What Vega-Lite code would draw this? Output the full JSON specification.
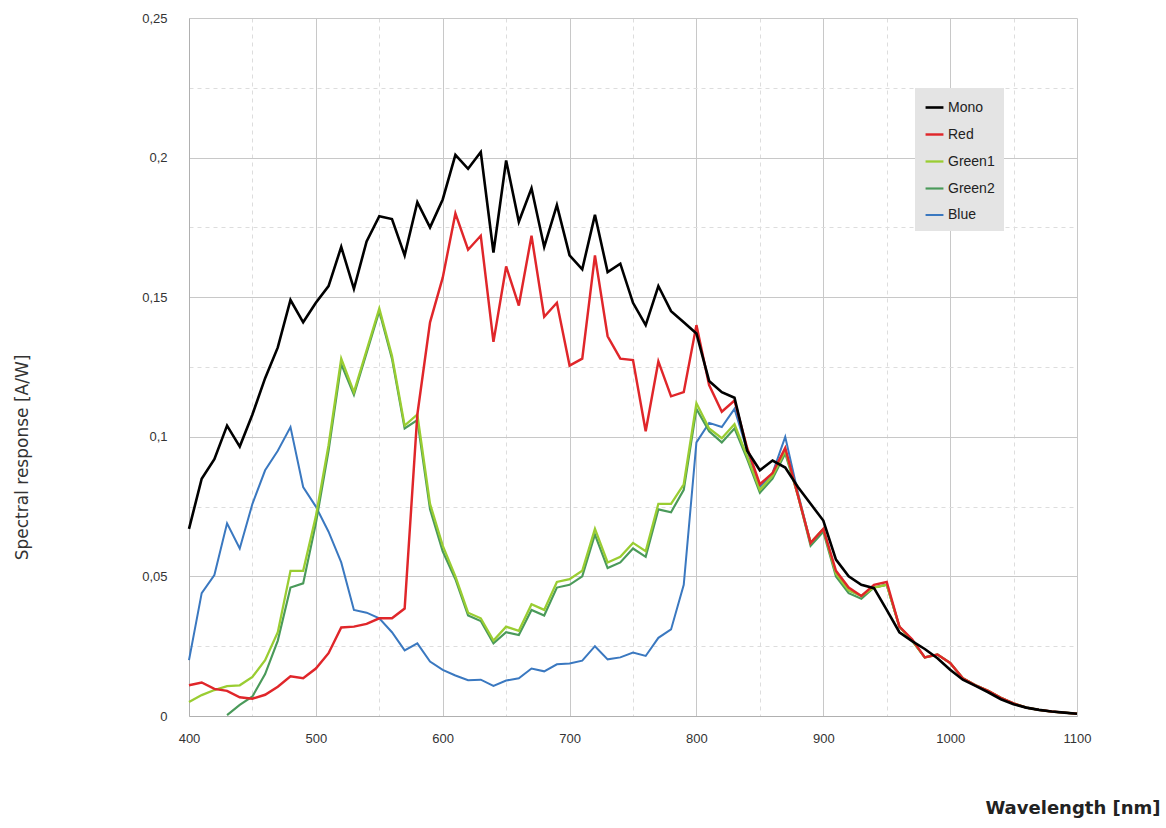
{
  "$schema": "https://vega.github.io/schema/vega-lite/v6.json",
  "autosize": {"type": "none"},
  "padding": {"left": 189, "top": 18, "right": 89, "bottom": 112},
  "width": 888,
  "height": 698,
  "background": "white",
  "config": {
    "view": {"stroke": null},
    "font": "DejaVu Sans"
  },
  "data": {
    "values": [
      {"series":"Blue","wl":400,"r":0.020},{"series":"Blue","wl":410,"r":0.044},{"series":"Blue","wl":420,"r":0.0505},{"series":"Blue","wl":430,"r":0.069},{"series":"Blue","wl":440,"r":0.060},{"series":"Blue","wl":450,"r":0.076},{"series":"Blue","wl":460,"r":0.088},{"series":"Blue","wl":470,"r":0.095},{"series":"Blue","wl":480,"r":0.1035},{"series":"Blue","wl":490,"r":0.082},{"series":"Blue","wl":500,"r":0.075},{"series":"Blue","wl":510,"r":0.066},{"series":"Blue","wl":520,"r":0.055},{"series":"Blue","wl":530,"r":0.038},{"series":"Blue","wl":540,"r":0.037},{"series":"Blue","wl":550,"r":0.035},{"series":"Blue","wl":560,"r":0.030},{"series":"Blue","wl":570,"r":0.0235},{"series":"Blue","wl":580,"r":0.026},{"series":"Blue","wl":590,"r":0.0195},{"series":"Blue","wl":600,"r":0.0165},{"series":"Blue","wl":610,"r":0.0145},{"series":"Blue","wl":620,"r":0.0128},{"series":"Blue","wl":630,"r":0.013},{"series":"Blue","wl":640,"r":0.0108},{"series":"Blue","wl":650,"r":0.0127},{"series":"Blue","wl":660,"r":0.0135},{"series":"Blue","wl":670,"r":0.017},{"series":"Blue","wl":680,"r":0.016},{"series":"Blue","wl":690,"r":0.0185},{"series":"Blue","wl":700,"r":0.0188},{"series":"Blue","wl":710,"r":0.0198},{"series":"Blue","wl":720,"r":0.025},{"series":"Blue","wl":730,"r":0.0203},{"series":"Blue","wl":740,"r":0.021},{"series":"Blue","wl":750,"r":0.0227},{"series":"Blue","wl":760,"r":0.0215},{"series":"Blue","wl":770,"r":0.028},{"series":"Blue","wl":780,"r":0.031},{"series":"Blue","wl":790,"r":0.047},{"series":"Blue","wl":800,"r":0.098},{"series":"Blue","wl":810,"r":0.105},{"series":"Blue","wl":820,"r":0.1035},{"series":"Blue","wl":830,"r":0.110},{"series":"Blue","wl":840,"r":0.095},{"series":"Blue","wl":850,"r":0.082},{"series":"Blue","wl":860,"r":0.087},{"series":"Blue","wl":870,"r":0.100},{"series":"Blue","wl":880,"r":0.080},{"series":"Blue","wl":890,"r":0.062},{"series":"Blue","wl":900,"r":0.067},{"series":"Blue","wl":910,"r":0.051},{"series":"Blue","wl":920,"r":0.045},{"series":"Blue","wl":930,"r":0.043},{"series":"Blue","wl":940,"r":0.046},{"series":"Blue","wl":950,"r":0.047},{"series":"Blue","wl":960,"r":0.032},{"series":"Blue","wl":970,"r":0.027},{"series":"Blue","wl":980,"r":0.021},{"series":"Blue","wl":990,"r":0.022},{"series":"Blue","wl":1000,"r":0.019},{"series":"Blue","wl":1010,"r":0.0135},{"series":"Blue","wl":1020,"r":0.011},{"series":"Blue","wl":1030,"r":0.009},{"series":"Blue","wl":1040,"r":0.0065},{"series":"Blue","wl":1050,"r":0.0045},{"series":"Blue","wl":1060,"r":0.003},{"series":"Blue","wl":1070,"r":0.0022},{"series":"Blue","wl":1080,"r":0.0016},{"series":"Blue","wl":1090,"r":0.0012},{"series":"Blue","wl":1100,"r":0.0008},
      {"series":"Green2","wl":430,"r":0.0003},{"series":"Green2","wl":440,"r":0.004},{"series":"Green2","wl":450,"r":0.007},{"series":"Green2","wl":460,"r":0.015},{"series":"Green2","wl":470,"r":0.027},{"series":"Green2","wl":480,"r":0.046},{"series":"Green2","wl":490,"r":0.0475},{"series":"Green2","wl":500,"r":0.069},{"series":"Green2","wl":510,"r":0.095},{"series":"Green2","wl":520,"r":0.126},{"series":"Green2","wl":530,"r":0.115},{"series":"Green2","wl":540,"r":0.130},{"series":"Green2","wl":550,"r":0.145},{"series":"Green2","wl":560,"r":0.128},{"series":"Green2","wl":570,"r":0.103},{"series":"Green2","wl":580,"r":0.106},{"series":"Green2","wl":590,"r":0.074},{"series":"Green2","wl":600,"r":0.059},{"series":"Green2","wl":610,"r":0.049},{"series":"Green2","wl":620,"r":0.036},{"series":"Green2","wl":630,"r":0.034},{"series":"Green2","wl":640,"r":0.026},{"series":"Green2","wl":650,"r":0.030},{"series":"Green2","wl":660,"r":0.029},{"series":"Green2","wl":670,"r":0.038},{"series":"Green2","wl":680,"r":0.036},{"series":"Green2","wl":690,"r":0.046},{"series":"Green2","wl":700,"r":0.047},{"series":"Green2","wl":710,"r":0.050},{"series":"Green2","wl":720,"r":0.065},{"series":"Green2","wl":730,"r":0.053},{"series":"Green2","wl":740,"r":0.055},{"series":"Green2","wl":750,"r":0.060},{"series":"Green2","wl":760,"r":0.057},{"series":"Green2","wl":770,"r":0.074},{"series":"Green2","wl":780,"r":0.073},{"series":"Green2","wl":790,"r":0.081},{"series":"Green2","wl":800,"r":0.110},{"series":"Green2","wl":810,"r":0.102},{"series":"Green2","wl":820,"r":0.098},{"series":"Green2","wl":830,"r":0.103},{"series":"Green2","wl":840,"r":0.092},{"series":"Green2","wl":850,"r":0.080},{"series":"Green2","wl":860,"r":0.085},{"series":"Green2","wl":870,"r":0.094},{"series":"Green2","wl":880,"r":0.079},{"series":"Green2","wl":890,"r":0.061},{"series":"Green2","wl":900,"r":0.066},{"series":"Green2","wl":910,"r":0.050},{"series":"Green2","wl":920,"r":0.044},{"series":"Green2","wl":930,"r":0.042},{"series":"Green2","wl":940,"r":0.046},{"series":"Green2","wl":950,"r":0.047},{"series":"Green2","wl":960,"r":0.032},{"series":"Green2","wl":970,"r":0.027},{"series":"Green2","wl":980,"r":0.021},{"series":"Green2","wl":990,"r":0.022},{"series":"Green2","wl":1000,"r":0.019},{"series":"Green2","wl":1010,"r":0.0135},{"series":"Green2","wl":1020,"r":0.011},{"series":"Green2","wl":1030,"r":0.009},{"series":"Green2","wl":1040,"r":0.0065},{"series":"Green2","wl":1050,"r":0.0045},{"series":"Green2","wl":1060,"r":0.003},{"series":"Green2","wl":1070,"r":0.0022},{"series":"Green2","wl":1080,"r":0.0016},{"series":"Green2","wl":1090,"r":0.0012},{"series":"Green2","wl":1100,"r":0.0008},
      {"series":"Green1","wl":400,"r":0.005},{"series":"Green1","wl":410,"r":0.0075},{"series":"Green1","wl":420,"r":0.0093},{"series":"Green1","wl":430,"r":0.0107},{"series":"Green1","wl":440,"r":0.011},{"series":"Green1","wl":450,"r":0.014},{"series":"Green1","wl":460,"r":0.020},{"series":"Green1","wl":470,"r":0.030},{"series":"Green1","wl":480,"r":0.052},{"series":"Green1","wl":490,"r":0.052},{"series":"Green1","wl":500,"r":0.0715},{"series":"Green1","wl":510,"r":0.097},{"series":"Green1","wl":520,"r":0.128},{"series":"Green1","wl":530,"r":0.116},{"series":"Green1","wl":540,"r":0.131},{"series":"Green1","wl":550,"r":0.146},{"series":"Green1","wl":560,"r":0.129},{"series":"Green1","wl":570,"r":0.104},{"series":"Green1","wl":580,"r":0.108},{"series":"Green1","wl":590,"r":0.076},{"series":"Green1","wl":600,"r":0.061},{"series":"Green1","wl":610,"r":0.050},{"series":"Green1","wl":620,"r":0.037},{"series":"Green1","wl":630,"r":0.035},{"series":"Green1","wl":640,"r":0.027},{"series":"Green1","wl":650,"r":0.032},{"series":"Green1","wl":660,"r":0.0305},{"series":"Green1","wl":670,"r":0.040},{"series":"Green1","wl":680,"r":0.038},{"series":"Green1","wl":690,"r":0.048},{"series":"Green1","wl":700,"r":0.049},{"series":"Green1","wl":710,"r":0.052},{"series":"Green1","wl":720,"r":0.067},{"series":"Green1","wl":730,"r":0.055},{"series":"Green1","wl":740,"r":0.057},{"series":"Green1","wl":750,"r":0.062},{"series":"Green1","wl":760,"r":0.059},{"series":"Green1","wl":770,"r":0.076},{"series":"Green1","wl":780,"r":0.076},{"series":"Green1","wl":790,"r":0.083},{"series":"Green1","wl":800,"r":0.112},{"series":"Green1","wl":810,"r":0.103},{"series":"Green1","wl":820,"r":0.0995},{"series":"Green1","wl":830,"r":0.1045},{"series":"Green1","wl":840,"r":0.093},{"series":"Green1","wl":850,"r":0.081},{"series":"Green1","wl":860,"r":0.086},{"series":"Green1","wl":870,"r":0.095},{"series":"Green1","wl":880,"r":0.079},{"series":"Green1","wl":890,"r":0.062},{"series":"Green1","wl":900,"r":0.067},{"series":"Green1","wl":910,"r":0.051},{"series":"Green1","wl":920,"r":0.045},{"series":"Green1","wl":930,"r":0.043},{"series":"Green1","wl":940,"r":0.046},{"series":"Green1","wl":950,"r":0.047},{"series":"Green1","wl":960,"r":0.032},{"series":"Green1","wl":970,"r":0.027},{"series":"Green1","wl":980,"r":0.021},{"series":"Green1","wl":990,"r":0.022},{"series":"Green1","wl":1000,"r":0.019},{"series":"Green1","wl":1010,"r":0.0135},{"series":"Green1","wl":1020,"r":0.011},{"series":"Green1","wl":1030,"r":0.009},{"series":"Green1","wl":1040,"r":0.0065},{"series":"Green1","wl":1050,"r":0.0045},{"series":"Green1","wl":1060,"r":0.003},{"series":"Green1","wl":1070,"r":0.0022},{"series":"Green1","wl":1080,"r":0.0016},{"series":"Green1","wl":1090,"r":0.0012},{"series":"Green1","wl":1100,"r":0.0008},
      {"series":"Red","wl":400,"r":0.011},{"series":"Red","wl":410,"r":0.012},{"series":"Red","wl":420,"r":0.0097},{"series":"Red","wl":430,"r":0.009},{"series":"Red","wl":440,"r":0.0067},{"series":"Red","wl":450,"r":0.0062},{"series":"Red","wl":460,"r":0.0076},{"series":"Red","wl":470,"r":0.0105},{"series":"Red","wl":480,"r":0.0142},{"series":"Red","wl":490,"r":0.0135},{"series":"Red","wl":500,"r":0.017},{"series":"Red","wl":510,"r":0.0225},{"series":"Red","wl":520,"r":0.0317},{"series":"Red","wl":530,"r":0.032},{"series":"Red","wl":540,"r":0.033},{"series":"Red","wl":550,"r":0.035},{"series":"Red","wl":560,"r":0.035},{"series":"Red","wl":570,"r":0.0385},{"series":"Red","wl":580,"r":0.108},{"series":"Red","wl":590,"r":0.141},{"series":"Red","wl":600,"r":0.157},{"series":"Red","wl":610,"r":0.180},{"series":"Red","wl":620,"r":0.167},{"series":"Red","wl":630,"r":0.172},{"series":"Red","wl":640,"r":0.134},{"series":"Red","wl":650,"r":0.161},{"series":"Red","wl":660,"r":0.147},{"series":"Red","wl":670,"r":0.172},{"series":"Red","wl":680,"r":0.143},{"series":"Red","wl":690,"r":0.148},{"series":"Red","wl":700,"r":0.1255},{"series":"Red","wl":710,"r":0.128},{"series":"Red","wl":720,"r":0.165},{"series":"Red","wl":730,"r":0.136},{"series":"Red","wl":740,"r":0.128},{"series":"Red","wl":750,"r":0.1275},{"series":"Red","wl":760,"r":0.102},{"series":"Red","wl":770,"r":0.127},{"series":"Red","wl":780,"r":0.1145},{"series":"Red","wl":790,"r":0.116},{"series":"Red","wl":800,"r":0.140},{"series":"Red","wl":810,"r":0.1185},{"series":"Red","wl":820,"r":0.109},{"series":"Red","wl":830,"r":0.113},{"series":"Red","wl":840,"r":0.096},{"series":"Red","wl":850,"r":0.083},{"series":"Red","wl":860,"r":0.087},{"series":"Red","wl":870,"r":0.096},{"series":"Red","wl":880,"r":0.079},{"series":"Red","wl":890,"r":0.062},{"series":"Red","wl":900,"r":0.067},{"series":"Red","wl":910,"r":0.052},{"series":"Red","wl":920,"r":0.046},{"series":"Red","wl":930,"r":0.043},{"series":"Red","wl":940,"r":0.047},{"series":"Red","wl":950,"r":0.048},{"series":"Red","wl":960,"r":0.032},{"series":"Red","wl":970,"r":0.0275},{"series":"Red","wl":980,"r":0.021},{"series":"Red","wl":990,"r":0.022},{"series":"Red","wl":1000,"r":0.019},{"series":"Red","wl":1010,"r":0.0135},{"series":"Red","wl":1020,"r":0.011},{"series":"Red","wl":1030,"r":0.009},{"series":"Red","wl":1040,"r":0.0065},{"series":"Red","wl":1050,"r":0.0045},{"series":"Red","wl":1060,"r":0.003},{"series":"Red","wl":1070,"r":0.0022},{"series":"Red","wl":1080,"r":0.0016},{"series":"Red","wl":1090,"r":0.0012},{"series":"Red","wl":1100,"r":0.0008},
      {"series":"Mono","wl":400,"r":0.067},{"series":"Mono","wl":410,"r":0.085},{"series":"Mono","wl":420,"r":0.092},{"series":"Mono","wl":430,"r":0.104},{"series":"Mono","wl":440,"r":0.0965},{"series":"Mono","wl":450,"r":0.108},{"series":"Mono","wl":460,"r":0.121},{"series":"Mono","wl":470,"r":0.132},{"series":"Mono","wl":480,"r":0.149},{"series":"Mono","wl":490,"r":0.141},{"series":"Mono","wl":500,"r":0.148},{"series":"Mono","wl":510,"r":0.154},{"series":"Mono","wl":520,"r":0.168},{"series":"Mono","wl":530,"r":0.153},{"series":"Mono","wl":540,"r":0.170},{"series":"Mono","wl":550,"r":0.179},{"series":"Mono","wl":560,"r":0.178},{"series":"Mono","wl":570,"r":0.165},{"series":"Mono","wl":580,"r":0.184},{"series":"Mono","wl":590,"r":0.175},{"series":"Mono","wl":600,"r":0.185},{"series":"Mono","wl":610,"r":0.201},{"series":"Mono","wl":620,"r":0.196},{"series":"Mono","wl":630,"r":0.202},{"series":"Mono","wl":640,"r":0.166},{"series":"Mono","wl":650,"r":0.199},{"series":"Mono","wl":660,"r":0.177},{"series":"Mono","wl":670,"r":0.189},{"series":"Mono","wl":680,"r":0.168},{"series":"Mono","wl":690,"r":0.183},{"series":"Mono","wl":700,"r":0.165},{"series":"Mono","wl":710,"r":0.160},{"series":"Mono","wl":720,"r":0.1795},{"series":"Mono","wl":730,"r":0.159},{"series":"Mono","wl":740,"r":0.162},{"series":"Mono","wl":750,"r":0.148},{"series":"Mono","wl":760,"r":0.140},{"series":"Mono","wl":770,"r":0.154},{"series":"Mono","wl":780,"r":0.145},{"series":"Mono","wl":790,"r":0.141},{"series":"Mono","wl":800,"r":0.137},{"series":"Mono","wl":810,"r":0.120},{"series":"Mono","wl":820,"r":0.116},{"series":"Mono","wl":830,"r":0.114},{"series":"Mono","wl":840,"r":0.095},{"series":"Mono","wl":850,"r":0.088},{"series":"Mono","wl":860,"r":0.0915},{"series":"Mono","wl":870,"r":0.089},{"series":"Mono","wl":880,"r":0.082},{"series":"Mono","wl":890,"r":0.076},{"series":"Mono","wl":900,"r":0.070},{"series":"Mono","wl":910,"r":0.056},{"series":"Mono","wl":920,"r":0.050},{"series":"Mono","wl":930,"r":0.047},{"series":"Mono","wl":940,"r":0.0458},{"series":"Mono","wl":950,"r":0.038},{"series":"Mono","wl":960,"r":0.030},{"series":"Mono","wl":970,"r":0.0268},{"series":"Mono","wl":980,"r":0.024},{"series":"Mono","wl":990,"r":0.0207},{"series":"Mono","wl":1000,"r":0.0166},{"series":"Mono","wl":1010,"r":0.013},{"series":"Mono","wl":1020,"r":0.0108},{"series":"Mono","wl":1030,"r":0.0085},{"series":"Mono","wl":1040,"r":0.006},{"series":"Mono","wl":1050,"r":0.0042},{"series":"Mono","wl":1060,"r":0.003},{"series":"Mono","wl":1070,"r":0.0022},{"series":"Mono","wl":1080,"r":0.0016},{"series":"Mono","wl":1090,"r":0.0012},{"series":"Mono","wl":1100,"r":0.0008}
    ]
  },
  "mark": {"type": "line", "strokeJoin": "miter", "strokeCap": "butt"},
  "encoding": {
    "x": {
      "field": "wl", "type": "quantitative",
      "scale": {"domain": [400, 1100], "nice": false, "zero": false},
      "axis": {
        "title": "Wavelength [nm]",
        "values": [400,450,500,550,600,650,700,750,800,850,900,950,1000,1050,1100],
        "labelExpr": "datum.value % 100 === 0 ? toString(datum.value) : ''",
        "labelFlush": false,
        "labelFont": "Liberation Sans", "labelFontSize": 13, "labelColor": "#333333", "labelPadding": 16,
        "ticks": false,
        "domainColor": "#b0b0b0",
        "grid": true,
        "gridColor": {"condition": {"test": "datum.value % 100 !== 0", "value": "#dddddd"}, "value": "#c8c8c8"},
        "gridDash": {"condition": {"test": "datum.value % 100 !== 0", "value": [4, 4]}, "value": []},
        "gridWidth": 1,
        "titleFont": "DejaVu Sans", "titleFontWeight": "bold", "titleFontSize": 18, "titleColor": "#222222",
        "titleAnchor": "end", "titleAlign": "right", "titleX": 971, "titleY": 92, "titleBaseline": "middle"
      }
    },
    "y": {
      "field": "r", "type": "quantitative",
      "scale": {"domain": [0, 0.25], "nice": false},
      "axis": {
        "title": "Spectral response [A/W]",
        "values": [0,0.025,0.05,0.075,0.1,0.125,0.15,0.175,0.2,0.225,0.25],
        "labelExpr": "round(datum.value*1000) % 50 === 0 ? replace(toString(round(datum.value*1000)/1000), '.', ',') : ''",
        "labelFont": "Liberation Sans", "labelFontSize": 13, "labelColor": "#333333", "labelPadding": 22,
        "ticks": false,
        "domainColor": "#b0b0b0",
        "grid": true,
        "gridColor": {"condition": {"test": "round(datum.value*1000) % 50 !== 0", "value": "#dddddd"}, "value": "#c8c8c8"},
        "gridDash": {"condition": {"test": "round(datum.value*1000) % 50 !== 0", "value": [4, 4]}, "value": []},
        "titleFont": "DejaVu Sans", "titleFontWeight": "normal", "titleFontSize": 17, "titleColor": "#333333",
        "titleX": -167, "titleY": 439, "titleAngle": -90, "titleAlign": "center", "titleBaseline": "middle"
      }
    },
    "color": {
      "field": "series", "type": "nominal",
      "scale": {
        "domain": ["Mono", "Red", "Green1", "Green2", "Blue"],
        "range": ["#000000", "#e0262a", "#9acd32", "#4a9a5a", "#3a78c0"]
      },
      "legend": {
        "title": null,
        "orient": "none",
        "legendX": 726,
        "legendY": 70,
        "fillColor": "#e4e4e4",
        "padding": 9,
        "symbolType": "stroke",
        "symbolSize": 320,
        "symbolStrokeWidth": 2.5,
        "labelFont": "Liberation Sans",
        "labelFontSize": 14,
        "labelColor": "#222222",
        "rowPadding": 9,
        "labelOffset": 3
      }
    },
    "strokeWidth": {
      "field": "series", "type": "nominal",
      "scale": {"domain": ["Mono", "Red", "Green1", "Green2", "Blue"], "range": [2.6, 2, 2, 2, 2]},
      "legend": null
    }
  }
}
